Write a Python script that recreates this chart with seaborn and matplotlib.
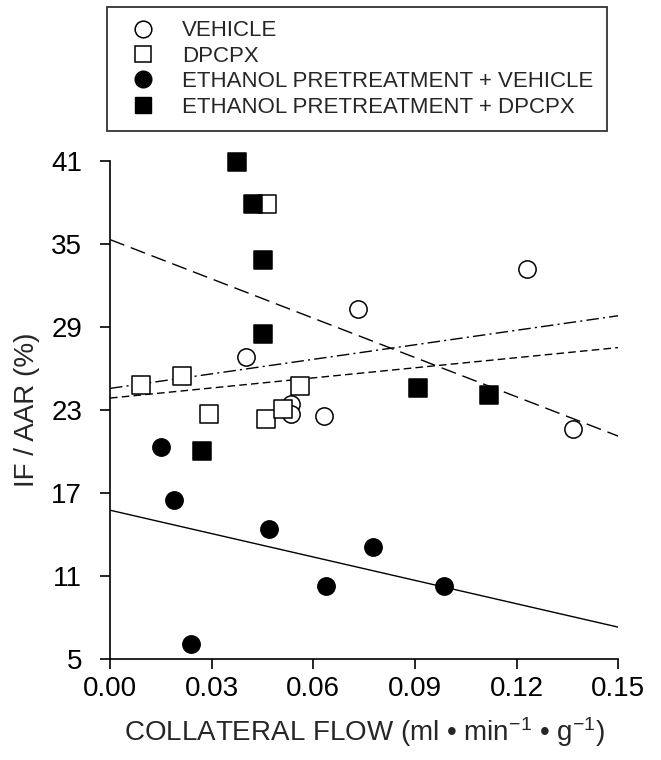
import seaborn as sns
import matplotlib.pyplot as plt
from matplotlib.lines import Line2D

# values
vehicle_x = [0.0401, 0.0733, 0.1230, 0.0534, 0.0534, 0.0632, 0.1367]
vehicle_y = [26.8, 30.3, 33.15, 23.4, 22.7, 22.55, 21.6]

dpcpx_x = [0.0462, 0.0211, 0.0091, 0.0560, 0.0292, 0.0460, 0.0511]
dpcpx_y = [37.9, 25.45, 24.8, 24.7, 22.7, 22.35, 23.05]

eth_veh_x = [0.0150, 0.0190, 0.0470, 0.0638, 0.0239, 0.0777, 0.0986]
eth_veh_y = [20.35, 16.5, 14.4, 10.3, 6.1, 13.1, 10.3]

eth_dpcpx_x = [0.0374, 0.0423, 0.0452, 0.0452, 0.0271, 0.0910, 0.1118]
eth_dpcpx_y = [40.9, 37.9, 33.8, 28.5, 20.0, 24.55, 24.05]

labels = ["VEHICLE", "DPCPX",
          "ETHANOL PRETREATMENT + VEHICLE", "ETHANOL PRETREATMENT + DPCPX"]

# regression lines: value at x = 0 and x = 0.15
fit_x = [0.0, 0.15]
fit_vehicle = [23.85, 27.5]
fit_dpcpx = [24.55, 29.8]
fit_eth_veh = [15.75, 7.3]
fit_eth_dpcpx = [35.3, 21.1]

x_ticks = [0.00, 0.03, 0.06, 0.09, 0.12, 0.15]
y_ticks = [5, 11, 17, 23, 29, 35, 41]

sns.set_style("ticks")
plt.rcParams["font.family"] = ["Liberation Sans", "DejaVu Sans"]
plt.rcParams["mathtext.fontset"] = "custom"
plt.rcParams["mathtext.rm"] = "Liberation Sans"
plt.rcParams["mathtext.it"] = "Liberation Sans"

fig = plt.figure(figsize=(6.61, 7.6), dpi=100)
ax = fig.add_axes([110 / 661, 1 - 659 / 760, 508.3 / 661, 498.3 / 760])

lw = 1.0
ax.plot(fit_x, fit_vehicle, color="black", lw=lw, dashes=(5.5, 3))
ax.plot(fit_x, fit_dpcpx, color="black", lw=lw, dashes=(9, 3, 1.5, 3))
ax.plot(fit_x, fit_eth_veh, color="black", lw=lw)
ax.plot(fit_x, fit_eth_dpcpx, color="black", lw=lw, dashes=(11, 5))

ms = 155
sns.scatterplot(x=vehicle_x, y=vehicle_y, marker="o", s=ms, color="white",
                edgecolor="black", linewidth=1.1, ax=ax, zorder=3, clip_on=False)
sns.scatterplot(x=dpcpx_x, y=dpcpx_y, marker="s", s=ms, color="white",
                edgecolor="black", linewidth=1.1, ax=ax, zorder=3, clip_on=False)
sns.scatterplot(x=eth_veh_x, y=eth_veh_y, marker="o", s=ms, color="black",
                edgecolor="black", linewidth=1.1, ax=ax, zorder=4, clip_on=False)
sns.scatterplot(x=eth_dpcpx_x, y=eth_dpcpx_y, marker="s", s=ms, color="black",
                edgecolor="black", linewidth=1.1, ax=ax, zorder=4, clip_on=False)

ax.set_xlim(0, 0.15)
ax.set_ylim(5, 41)
ax.set_xticks(x_ticks)
ax.set_xticklabels([f"{t:.2f}" for t in x_ticks])
ax.set_yticks(y_ticks)
ax.tick_params(axis="both", direction="out", length=7, width=1.2,
               labelsize=20, color="black", labelcolor="black")
ax.tick_params(axis="y", pad=13)
ax.tick_params(axis="x", pad=5)
sns.despine(ax=ax)
for side in ["left", "bottom"]:
    ax.spines[side].set_linewidth(1.2)
    ax.spines[side].set_color("black")

ax.set_xlabel("COLLATERAL FLOW (ml \u2022 min$^{-1}$ \u2022 g$^{-1}$)",
              fontsize=20, labelpad=10)
ax.set_ylabel("IF / AAR (%)", fontsize=20, labelpad=8)

handles = [
    Line2D([], [], ls="none", marker="o", markersize=12, markerfacecolor="white",
           markeredgecolor="black", markeredgewidth=1.1),
    Line2D([], [], ls="none", marker="s", markersize=11, markerfacecolor="white",
           markeredgecolor="black", markeredgewidth=1.1),
    Line2D([], [], ls="none", marker="o", markersize=12, markerfacecolor="black",
           markeredgecolor="black"),
    Line2D([], [], ls="none", marker="s", markersize=11, markerfacecolor="black",
           markeredgecolor="black"),
]
leg = fig.legend(handles, labels, loc="upper left",
                 bbox_to_anchor=(107 / 661, 1 - 7 / 760), fontsize=16,
                 frameon=True, fancybox=False, borderpad=0.6, handlelength=2.0,
                 handletextpad=0.78, labelspacing=0.2, borderaxespad=0)
leg.get_frame().set_edgecolor("black")
leg.get_frame().set_linewidth(1.3)

fig.savefig("out.png", dpi=100)
